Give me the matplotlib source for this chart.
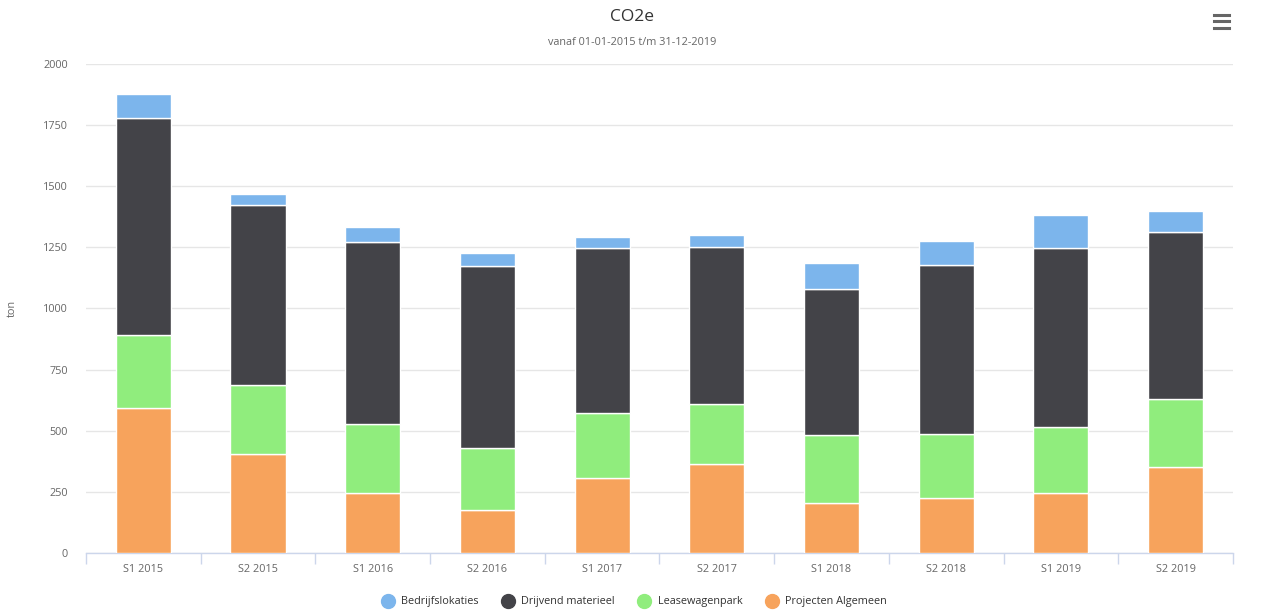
import numpy as np
import matplotlib

matplotlib.use("Agg")
import matplotlib.pyplot as plt  # noqa: E402
from matplotlib.lines import Line2D  # noqa: E402

# ---------------------------------------------------------------------------
# Data (ton CO2e per half year)
# ---------------------------------------------------------------------------
periods = ["S1 2015", "S2 2015", "S1 2016", "S2 2016", "S1 2017",
           "S2 2017", "S1 2018", "S2 2018", "S1 2019", "S2 2019"]

projecten_algemeen = [593, 405, 245, 176, 307, 364, 204, 225, 245, 352]
leasewagenpark = [298, 282, 283, 253, 266, 245, 279, 262, 270, 278]
drijvend_materieel = [888, 736, 744, 745, 674, 642, 597, 691, 732, 683]
bedrijfslokaties = [98, 45, 61, 53, 45, 49, 106, 98, 135, 86]

y_ticks = [0, 250, 500, 750, 1000, 1250, 1500, 1750, 2000]

# stacking order bottom -> top
series = [
    ("Projecten Algemeen", projecten_algemeen, "#f7a35c"),
    ("Leasewagenpark", leasewagenpark, "#90ed7d"),
    ("Drijvend materieel", drijvend_materieel, "#434348"),
    ("Bedrijfslokaties", bedrijfslokaties, "#7cb5ec"),
]

FONT = "Open Sans"
TXT = "#666666"
FS = 7.8

fig = plt.figure(figsize=(12.64, 6.13), dpi=100)
fig.patch.set_facecolor("white")
ax = fig.add_axes([0.068, 0.098, 0.9075, 0.7975])

x = np.arange(len(periods))
bottom = np.zeros(len(periods))
for name, vals, color in series:
    ax.bar(x, vals, width=0.48, bottom=bottom, color=color,
           edgecolor="white", linewidth=1, label=name, zorder=3)
    bottom += np.array(vals)

ax.set_xlim(-0.5, len(periods) - 0.5)
ax.set_ylim(0, 2000)
ax.set_yticks(y_ticks)
ax.set_yticklabels([str(t) for t in y_ticks], fontsize=FS, color=TXT,
                   family=FONT)
ax.set_xticks(x)
ax.set_xticklabels(periods, fontsize=FS, color=TXT, family=FONT)
ax.tick_params(axis="y", length=0, pad=13)
ax.tick_params(axis="x", length=0, pad=8)

# boundary ticks between categories
ax.set_xticks(np.arange(-0.5, len(periods) + 0.5, 1.0), minor=True)
ax.tick_params(axis="x", which="minor", length=8, color="#ccd6eb", width=1)

ax.grid(axis="y", color="#e6e6e6", linewidth=1, zorder=0)
for side in ("top", "right", "left"):
    ax.spines[side].set_visible(False)
ax.spines["bottom"].set_color("#ccd6eb")
ax.spines["bottom"].set_linewidth(1)

ax.set_ylabel("ton", fontsize=FS, color=TXT, family=FONT)
ax.yaxis.set_label_coords(-0.059, 0.5)

fig.text(0.5, 0.972, "CO2e", ha="center", va="center", fontsize=12.5,
         color="#333333", family=FONT)
fig.text(0.5, 0.930, "vanaf 01-01-2015 t/m 31-12-2019", ha="center",
         va="center", fontsize=FS, color=TXT, family=FONT)

# legend in Highcharts order
handles = [Line2D([], [], marker="o", linestyle="none", markersize=10,
                  markerfacecolor=c, markeredgecolor=c)
           for _, _, c in reversed(series)]
labels = [n for n, _, _ in reversed(series)]
leg = fig.legend(handles, labels, loc="center", bbox_to_anchor=(0.5, 0.018),
                 ncol=4, frameon=False, fontsize=FS, handletextpad=0.25,
                 columnspacing=1.7)
for t in leg.get_texts():
    t.set_color("#333333")
    t.set_family(FONT)

# context menu icon
for yy in (0.975, 0.965, 0.955):
    fig.add_artist(Line2D([0.9605, 0.9725], [yy, yy], color="#666666",
                          linewidth=2.2, transform=fig.transFigure))

fig.savefig("out.png", dpi=100, facecolor=fig.get_facecolor())
plt.close(fig)
